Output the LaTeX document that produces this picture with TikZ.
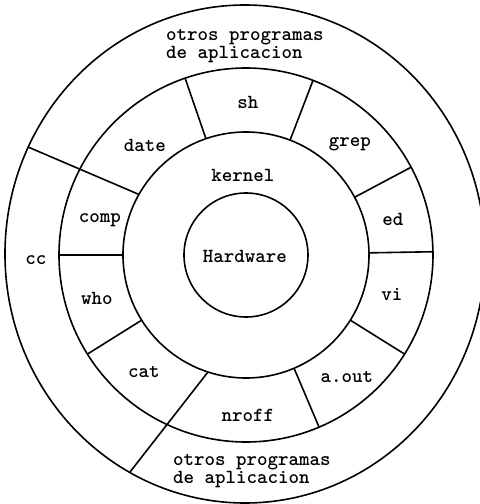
\documentclass[tikz,border=0pt]{standalone}
\usepackage{fontspec}
\usepackage{tikz}

\begin{document}
\begin{tikzpicture}[x=0.5pt, y=0.5pt, line width=0.8pt,
  every node/.style={font=\ttfamily\bfseries\fontsize{10}{7.8}\selectfont, inner sep=0pt}]
\useasboundingbox (-246,-249) rectangle (234,255);
% Radii of the rings
\def\rHard{62}
\def\rKern{123}
\def\rUtil{187}
% Rings: hardware, kernel, utilities, other applications
\draw (0,0) circle (\rHard);
\draw (0,0) circle (\rKern);
\draw (0,0) circle (\rUtil);
\draw (-1,1) ellipse [x radius=240, y radius=249];
% Dividers between the utilities
\foreach \a in {109,69,28,1,-32,-67,-148,180} {
  \draw (\a:\rKern) -- (\a:\rUtil);
}
% Dividers that run on through the outer ring
\coordinate (ccTop) at (-218,108);
\coordinate (ccBot) at (-116,-217);
\draw (150.5:\rKern) -- (ccTop);
\draw (-108:\rKern) -- (ccBot);
% Labels
\node (hard) at (-1,-1) {Hardware};
\node (kern) at (-3,80) {kernel};
\node (sh) at (2,153) {sh};
\node (grep) at (104,111) {grep};
\node (ed) at (147,36) {ed};
\node (vi) at (146,-39) {vi};
\node (aout) at (101,-122) {a.out};
\node (nroff) at (2,-160) {nroff};
\node (cat) at (-102,-117) {cat};
\node (who) at (-149,-43) {who};
\node (comp) at (-146,35) {comp};
\node (date) at (-101,110) {date};
\node (cc) at (-210,-5) {cc};
\node[align=left] (otrosA) at (-1,209) {otros programas\\de aplicacion};
\node[align=left] (otrosB) at (6,-216) {otros programas\\de aplicacion};
\end{tikzpicture}
\end{document}
